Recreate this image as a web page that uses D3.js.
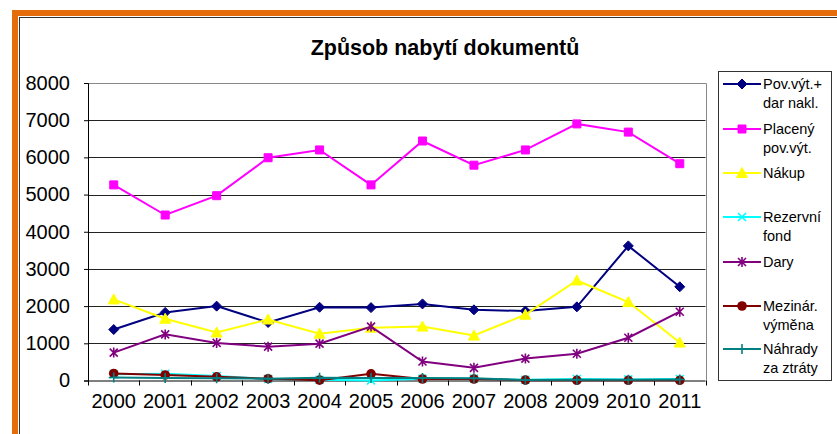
<!DOCTYPE html>
<html>
<head>
<meta charset="utf-8">
<script src="https://cdn.jsdelivr.net/npm/d3@7"></script>
<style>
  body { margin: 0; background: #fff; }
  svg { display: block; font-family: Arial, "Liberation Sans", sans-serif; }
</style>
</head>
<body>
<div id="chart"></div>
<script>
"use strict";

const years = ["2000", "2001", "2002", "2003", "2004", "2005", "2006", "2007", "2008", "2009", "2010", "2011"];
const yTicks = [0, 1000, 2000, 3000, 4000, 5000, 6000, 7000, 8000];

const povVyt = [1370, 1830, 2000, 1560, 1970, 1960, 2060, 1900, 1870, 1980, 3620, 2520];
const placeny = [5260, 4450, 4970, 5990, 6200, 5260, 6440, 5790, 6200, 6900, 6680, 5830];
const nakup = [2180, 1660, 1290, 1640, 1260, 1420, 1450, 1210, 1770, 2690, 2110, 1020];
const rezervni = [170, 180, 120, 40, 20, 0, 50, 50, 20, 40, 30, 40];
const dary = [750, 1240, 1010, 910, 990, 1450, 510, 340, 590, 720, 1150, 1850];
const mezinar = [190, 148, 100, 48, 10, 180, 40, 40, 10, 5, 5, 5];
const nahrady = [80, 70, 60, 50, 75, 65, 65, 60, 15, 20, 20, 25];

const seriesNames = [["Pov.výt.+", "dar nakl."], ["Placený", "pov.výt."], ["Nákup"], ["Rezervní", "fond"], ["Dary"], ["Mezinár.", "výměna"], ["Náhrady", "za ztráty"]];
const seriesValues = [povVyt, placeny, nakup, rezervni, dary, mezinar, nahrady];
const seriesColors = ["#000080", "#ff00ff", "#ffff00", "#00ffff", "#800080", "#800000", "#008080"];
const seriesMarkers = ["diamond", "square", "triangle", "cross", "star", "circle", "plus"];

const width = 837, height = 434;
const plot = { left: 88, right: 705.5, top: 83, bottom: 380.5 };

const svg = d3.select("#chart").append("svg")
    .attr("width", width)
    .attr("height", height);

// frame
svg.append("rect").attr("x", 12).attr("y", 10).attr("width", 6).attr("height", height - 10).attr("fill", "#e46c0a");
svg.append("rect").attr("x", 12).attr("y", 10).attr("width", width - 12).attr("height", 6).attr("fill", "#e46c0a");
svg.append("line").attr("x1", 19.5).attr("x2", 19.5).attr("y1", 17).attr("y2", height).attr("stroke", "#333");
svg.append("line").attr("x1", 19).attr("x2", width).attr("y1", 17.5).attr("y2", 17.5).attr("stroke", "#333");

svg.append("text")
    .attr("x", 445)
    .attr("y", 55)
    .attr("text-anchor", "middle")
    .attr("font-size", "21.5px")
    .attr("font-weight", "bold")
    .text("Způsob nabytí dokumentů");

const x = d3.scaleBand().domain(years).range([plot.left, plot.right]);
const y = d3.scaleLinear().domain([0, 8000]).range([plot.bottom, plot.top]);
const cx = d => x(d) + x.bandwidth() / 2;

// gridlines
svg.append("g")
    .selectAll("line")
    .data(yTicks.slice(1, -1))
    .join("line")
    .attr("x1", plot.left).attr("x2", plot.right)
    .attr("y1", d => Math.round(y(d)) + 0.5).attr("y2", d => Math.round(y(d)) + 0.5)
    .attr("stroke", "#222")
    .attr("stroke-width", 1);

// plot border (top, right)
svg.append("path")
    .attr("d", `M${plot.left},${Math.round(y(8000)) + 0.5}H${Math.round(plot.right) + 0.5}V${plot.bottom}`)
    .attr("fill", "none")
    .attr("stroke", "#888");

// y axis
const yAxis = svg.append("g")
    .attr("transform", `translate(${plot.left},0)`)
    .call(d3.axisLeft(y).tickValues(yTicks).tickSize(4).tickPadding(14).tickFormat(d3.format("d")));
yAxis.selectAll("text").attr("font-size", "20px").attr("fill", "#000").attr("font-family", "Arial, 'Liberation Sans', sans-serif");
yAxis.selectAll("line,path").attr("stroke", "#000");

// x axis
const xAxis = svg.append("g")
    .attr("transform", `translate(0,${plot.bottom})`)
    .call(d3.axisBottom(x).tickSize(0).tickPadding(13));
xAxis.selectAll("text").attr("font-size", "20px").attr("fill", "#000").attr("font-family", "Arial, 'Liberation Sans', sans-serif");
xAxis.select("path").attr("stroke", "#000").attr("d", `M${plot.left},0.5H${plot.right}`);

svg.append("g")
    .selectAll("line")
    .data(d3.range(years.length + 1))
    .join("line")
    .attr("x1", i => Math.round(plot.left + i * x.step()) + 0.5)
    .attr("x2", i => Math.round(plot.left + i * x.step()) + 0.5)
    .attr("y1", plot.bottom).attr("y2", plot.bottom + 5)
    .attr("stroke", "#000");

function markerPath(type) {
    switch (type) {
        case "diamond": return "M0,-5L5,0L0,5L-5,0Z";
        case "square": return "M-4,-4H4V4H-4Z";
        case "triangle": return "M0,-5.5L5.5,4.5H-5.5Z";
        case "cross": return "M-4,-4L4,4M-4,4L4,-4";
        case "star": return "M-4,-4L4,4M-4,4L4,-4M0,-5V5";
        case "plus": return "M0,-5V5M-5,0H5";
        default: return "";
    }
}

function drawMarker(g, type, color) {
    if (type === "circle") {
        g.append("circle").attr("r", 4.8).attr("fill", color);
    } else {
        const filled = ["diamond", "square", "triangle"].includes(type);
        g.append("path")
            .attr("d", markerPath(type))
            .attr("fill", filled ? color : "none")
            .attr("stroke", color)
            .attr("stroke-width", filled ? 1 : 1.6);
    }
}

const line = d3.line()
    .x((d, i) => cx(years[i]))
    .y(d => y(d));

seriesValues.forEach((vals, s) => {
    const g = svg.append("g");
    g.append("path")
        .attr("d", line(vals))
        .attr("fill", "none")
        .attr("stroke", seriesColors[s])
        .attr("stroke-width", 2);
    vals.forEach((v, i) => {
        const m = g.append("g").attr("transform", `translate(${cx(years[i])},${y(v)})`);
        drawMarker(m, seriesMarkers[s], seriesColors[s]);
    });
});

// legend
const legend = svg.append("g");
legend.append("rect")
    .attr("x", 718.5).attr("y", 71.5)
    .attr("width", 113).attr("height", 309)
    .attr("fill", "#fff")
    .attr("stroke", "#333");

const legendY = [84, 129, 173, 217, 262, 306, 349];
seriesNames.forEach((lines, s) => {
    const g = legend.append("g").attr("transform", `translate(0,${legendY[s]})`);
    g.append("line")
        .attr("x1", 723).attr("x2", 761)
        .attr("stroke", seriesColors[s])
        .attr("stroke-width", 2);
    const m = g.append("g").attr("transform", "translate(742,0)");
    drawMarker(m, seriesMarkers[s], seriesColors[s]);
    lines.forEach((t, k) => {
        g.append("text")
            .attr("x", 763)
            .attr("y", k * 19)
            .attr("dy", "0.35em")
            .attr("font-size", "14.5px")
            .text(t);
    });
});
</script>
</body>
</html>
